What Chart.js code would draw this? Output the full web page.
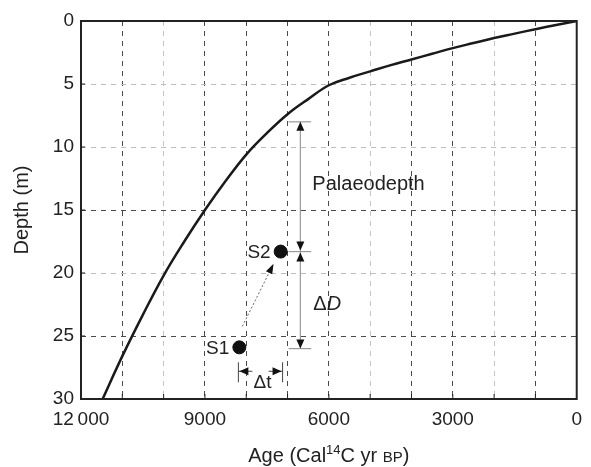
<!DOCTYPE html>
<html>
<head>
<meta charset="utf-8">
<script src="https://cdn.jsdelivr.net/npm/chart.js@4/dist/chart.umd.min.js"></script>
<style>
  html, body { margin: 0; padding: 0; background: #fff; }
  #wrap { width: 591px; height: 467px; }
</style>
</head>
<body>
<div id="wrap"><canvas id="chart"></canvas></div>
<script>
// Curva edad-profundidad
const ages   = [0, 500, 1000, 1500, 2000, 2500, 3000, 3500, 4000, 4500, 5000, 5500, 6000, 6500, 7000, 7500, 8000, 8500, 9000, 9500, 10000, 10500, 11000, 11476];
const depths = [0, 0.32, 0.65, 1.0, 1.35, 1.75, 2.15, 2.6, 3.05, 3.5, 4.0, 4.5, 5.1, 6.2, 7.4, 8.9, 10.6, 12.7, 15.0, 17.5, 20.2, 23.3, 26.6, 30];

// Muestras
const sampleNames  = ['S1', 'S2'];
const sampleAges   = [8167, 7167];
const sampleDepths = [25.9, 18.3];

// Flechas de paleoprofundidad y ΔD
const depthArrowAge = 6690;
const palaeoRange   = [8.0, 18.3];
const deltaDRange   = [18.3, 26.0];
const tickAgeRange  = [6976, 6429];

// Flecha Δt
const deltaTDepth = 27.8;
const deltaTAges  = [8190, 7120];

const xTickLabels = [12000, 9000, 6000, 3000, 0];
const lightX = [10000, 5000, 2000];
const lightY = [5, 10, 20];

const FONT = '"Liberation Sans", Arial, sans-serif';

function arrowHead(ctx, x, y, dir) {
  // dir: 'up', 'down', 'left', 'right' ; (x,y) es la punta
  const L = 9, W = 4;
  ctx.beginPath();
  if (dir === 'up')    { ctx.moveTo(x, y); ctx.lineTo(x - W, y + L); ctx.lineTo(x + W, y + L); }
  if (dir === 'down')  { ctx.moveTo(x, y); ctx.lineTo(x - W, y - L); ctx.lineTo(x + W, y - L); }
  if (dir === 'left')  { ctx.moveTo(x, y); ctx.lineTo(x + L, y - W); ctx.lineTo(x + L, y + W); }
  if (dir === 'right') { ctx.moveTo(x, y); ctx.lineTo(x - L, y - W); ctx.lineTo(x - L, y + W); }
  ctx.closePath();
  ctx.fill();
}

const annotations = {
  id: 'annotations',
  afterDraw(chart) {
    const ctx = chart.ctx;
    const xs = chart.scales.x, ys = chart.scales.y;
    const area = chart.chartArea;
    const px = v => xs.getPixelForValue(v);
    const py = v => ys.getPixelForValue(v);
    ctx.save();

    // ticks interiores
    ctx.strokeStyle = '#222';
    ctx.lineWidth = 1;
    for (let a = 1000; a < 12000; a += 1000) {
      ctx.beginPath(); ctx.moveTo(px(a), area.bottom); ctx.lineTo(px(a), area.bottom - 5); ctx.stroke();
    }
    for (let d = 5; d < 30; d += 5) {
      ctx.beginPath(); ctx.moveTo(area.left, py(d)); ctx.lineTo(area.left + 4, py(d)); ctx.stroke();
    }

    // marco
    ctx.strokeStyle = '#222';
    ctx.lineWidth = 2;
    ctx.strokeRect(area.left, area.top, area.right - area.left, area.bottom - area.top);

    // línea vertical de profundidad
    const ax = px(depthArrowAge);
    ctx.strokeStyle = '#9a9a9a';
    ctx.lineWidth = 1.2;
    ctx.beginPath();
    ctx.moveTo(ax, py(palaeoRange[0]));
    ctx.lineTo(ax, py(deltaDRange[1]));
    ctx.stroke();
    [palaeoRange[0], palaeoRange[1], deltaDRange[1]].forEach(d => {
      ctx.beginPath();
      ctx.moveTo(px(tickAgeRange[0]), py(d));
      ctx.lineTo(px(tickAgeRange[1]), py(d));
      ctx.stroke();
    });
    ctx.fillStyle = '#111';
    arrowHead(ctx, ax, py(palaeoRange[0]), 'up');
    arrowHead(ctx, ax, py(palaeoRange[1]) - 1, 'down');
    arrowHead(ctx, ax, py(deltaDRange[0]) + 1, 'up');
    arrowHead(ctx, ax, py(deltaDRange[1]), 'down');

    // flecha punteada S1 -> S2
    const x1 = px(sampleAges[0]), y1 = py(sampleDepths[0]);
    const x2 = px(sampleAges[1]), y2 = py(sampleDepths[1]);
    const sx = x1 + 3, sy = y1 - 21;
    const ex = x2 - 8, ey = y2 + 14;
    ctx.strokeStyle = '#666';
    ctx.lineWidth = 1;
    ctx.setLineDash([2, 2]);
    ctx.beginPath(); ctx.moveTo(sx, sy); ctx.lineTo(ex, ey); ctx.stroke();
    ctx.setLineDash([]);
    const a2 = Math.atan2(ey - sy, ex - sx);
    ctx.save();
    ctx.translate(ex, ey);
    ctx.rotate(a2);
    ctx.beginPath(); ctx.moveTo(2, 0); ctx.lineTo(-8, -3.5); ctx.lineTo(-8, 3.5); ctx.closePath();
    ctx.fillStyle = '#111'; ctx.fill();
    ctx.restore();

    // Δt
    const ty = py(deltaTDepth);
    const tl = px(deltaTAges[0]), tr = px(deltaTAges[1]);
    ctx.strokeStyle = '#444';
    ctx.lineWidth = 1;
    ctx.beginPath(); ctx.moveTo(tl, ty - 9); ctx.lineTo(tl, ty + 11); ctx.stroke();
    ctx.beginPath(); ctx.moveTo(tr, ty - 9); ctx.lineTo(tr, ty + 11); ctx.stroke();
    ctx.beginPath(); ctx.moveTo(tl, ty); ctx.lineTo(tl + 14, ty); ctx.stroke();
    ctx.beginPath(); ctx.moveTo(tr, ty); ctx.lineTo(tr - 14, ty); ctx.stroke();
    ctx.fillStyle = '#111';
    arrowHead(ctx, tl + 1, ty, 'left');
    arrowHead(ctx, tr - 1, ty, 'right');

    // textos
    ctx.fillStyle = '#222';
    ctx.textBaseline = 'middle';
    ctx.font = '19px ' + FONT;
    ctx.textAlign = 'right';
    sampleNames.forEach((n, i) => {
      ctx.fillText(n, px(sampleAges[i]) - 10, py(sampleDepths[i]) + 1);
    });
    ctx.textAlign = 'left';
    ctx.font = '20px ' + FONT;
    ctx.fillText('Palaeodepth', ax + 12, py((palaeoRange[0] + palaeoRange[1]) / 2) - 2);
    ctx.fillText('\u0394', ax + 13, py((deltaDRange[0] + deltaDRange[1]) / 2) + 4);
    const dw = ctx.measureText('\u0394').width;
    ctx.font = 'italic 20px ' + FONT;
    ctx.fillText('D', ax + 13 + dw, py((deltaDRange[0] + deltaDRange[1]) / 2) + 4);
    ctx.font = '19px ' + FONT;
    ctx.textAlign = 'center';
    ctx.fillText('\u0394t', (tl + tr) / 2 + 2, ty + 11);

    // título eje y
    ctx.save();
    ctx.translate(22, (area.top + area.bottom) / 2);
    ctx.rotate(-Math.PI / 2);
    ctx.textAlign = 'center';
    ctx.font = '20px ' + FONT;
    ctx.fillText('Depth (m)', 0, 0);
    ctx.restore();

    // título eje x con superíndice
    const parts = [
      { t: 'Age (Cal', f: '20px ' + FONT, dy: 0 },
      { t: '14', f: '13px ' + FONT, dy: -8 },
      { t: 'C yr ', f: '20px ' + FONT, dy: 0 },
      { t: 'BP', f: '15px ' + FONT, dy: 0 },
      { t: ')', f: '20px ' + FONT, dy: 0 }
    ];
    let total = 0;
    parts.forEach(p => { ctx.font = p.f; p.w = ctx.measureText(p.t).width; total += p.w; });
    let cx = (area.left + area.right) / 2 - total / 2;
    ctx.textAlign = 'left';
    ctx.textBaseline = 'alphabetic';
    parts.forEach(p => { ctx.font = p.f; ctx.fillText(p.t, cx, 462 + p.dy); cx += p.w; });

    ctx.restore();
  }
};

new Chart(document.getElementById('chart'), {
  type: 'scatter',
  data: {
    datasets: [
      {
        label: 'Age-depth',
        data: ages.map((a, i) => ({ x: a, y: depths[i] })),
        showLine: true,
        borderColor: '#1a1a1a',
        borderWidth: 2.5,
        pointRadius: 0,
        tension: 0.4
      },
      {
        label: 'Samples',
        data: sampleAges.map((a, i) => ({ x: a, y: sampleDepths[i] })),
        backgroundColor: '#111',
        borderColor: '#111',
        pointRadius: 6.5
      }
    ]
  },
  options: {
    responsive: true,
    maintainAspectRatio: false,
    animation: false,
    events: [],
    layout: { padding: { left: 0, top: 21, right: 6, bottom: 0 } },
    plugins: { legend: { display: false }, tooltip: { enabled: false } },
    scales: {
      x: {
        type: 'linear',
        reverse: true,
        min: 0,
        max: 12000,
        grid: {
          drawTicks: false,
          color: c => lightX.includes(c.tick.value) ? '#c4c4c4' : '#4a4a4a',
          lineWidth: 1
        },
        border: { display: false, dash: [5, 5] },
        ticks: {
          stepSize: 1000,
          autoSkip: false,
          maxRotation: 0,
          padding: 9,
          color: '#222',
          font: { family: FONT, size: 19 },
          callback: v => xTickLabels.includes(v) ? (v === 12000 ? '12\u2009000' : String(v)) : ''
        },
        afterFit: s => { s.height = 68; }
      },
      y: {
        type: 'linear',
        reverse: true,
        min: 0,
        max: 30,
        grid: {
          drawTicks: false,
          color: c => lightY.includes(c.tick.value) ? '#bdbdbd' : '#4a4a4a',
          lineWidth: 1
        },
        border: { display: false, dash: [5, 5] },
        ticks: {
          stepSize: 5,
          padding: 7,
          color: '#222',
          font: { family: FONT, size: 19 }
        },
        afterFit: s => { s.width = 81; }
      }
    }
  },
  plugins: [annotations]
});
</script>
</body>
</html>
